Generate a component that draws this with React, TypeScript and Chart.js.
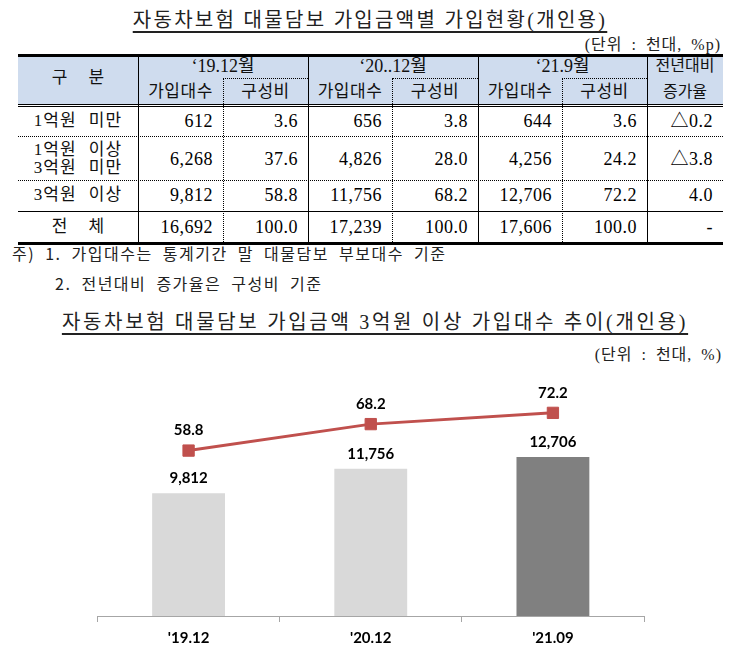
import React, { useEffect, useRef } from "react";
import { Chart, registerables } from "chart.js";

Chart.register(...registerables);

// ---------- chart data ----------
const categories = ["'19.12", "'20.12", "'21.09"];
const vehicleCounts = [9812, 11756, 12706];
const shareValues = [58.8, 68.2, 72.2];
const barColors = ["#d9d9d9", "#d9d9d9", "#808080"];

// ---------- table data ----------
const tableTitle = "자동차보험 대물담보 가입금액별 가입현황(개인용)";
const tableUnit = "(단위 : 천대, %p)";
const tablePeriods = ["\u201819.12월", "\u201820..12월", "\u201821.9월"];
const tableSubHeaders = ["가입대수", "구성비"];
const rowLabels = [["1억원 미만"], ["1억원 이상", "3억원 미만"], ["3억원 이상"], ["전 체"]];
const countRows = [
  [612, 656, 644],
  [6268, 4826, 4256],
  [9812, 11756, 12706],
  [16692, 17239, 17606],
];
const shareRows = [
  [3.6, 3.8, 3.6],
  [37.6, 28.0, 24.2],
  [58.8, 68.2, 72.2],
  [100.0, 100.0, 100.0],
];
const changeValues = ["\u25B30.2", "\u25B33.8", "4.0", "-"];
const notes = ["주) 1. 가입대수는 통계기간 말 대물담보 부보대수 기준", "2. 전년대비 증가율은 구성비 기준"];
const chartTitle = "자동차보험 대물담보 가입금액 3억원 이상 가입대수 추이(개인용)";
const chartUnit = "(단위 : 천대, %)";

// ---------- layout ----------
const SERIF = '"Liberation Serif", "Noto Sans CJK KR", serif';
const SANS = '"Noto Sans CJK KR", sans-serif';
const COLX = [18, 138, 223, 308, 392, 478, 562, 647, 723];
const ROW_CY = [121, 159, 195, 227];

function Txt(props: any) {
  const { left, width, cy, size = 17, lh = 22, align = "center", children, style } = props;
  return (
    <div
      style={{
        position: "absolute",
        left,
        width,
        top: cy - lh / 2,
        height: lh,
        lineHeight: lh + "px",
        fontSize: size,
        textAlign: align,
        whiteSpace: "nowrap",
        fontFamily: SERIF,
        color: "#111",
        ...style,
      }}
    >
      {children}
    </div>
  );
}

function HLine({ y, x1, x2, w = 1, kind = "solid" }: any) {
  return (
    <div
      style={{
        position: "absolute",
        left: x1,
        top: y,
        width: x2 - x1,
        height: 0,
        borderTop: `${w}px ${kind} #000`,
      }}
    />
  );
}

function VLine({ x, y1, y2, w = 1, kind = "solid" }: any) {
  return (
    <div
      style={{
        position: "absolute",
        left: x,
        top: y1,
        width: 0,
        height: y2 - y1,
        borderLeft: `${w}px ${kind} #000`,
      }}
    />
  );
}

const NUM_STYLE = { letterSpacing: 0.5, color: "#000" };

function Table() {
  const els: any[] = [];
  els.push(
    <div key="bg" style={{ position: "absolute", left: COLX[0], top: 56, width: COLX[8] - COLX[0], height: 48, background: "#cfdcee" }} />
  );
  els.push(<div key="top" style={{ position: "absolute", left: COLX[0], top: 54, width: COLX[8] - COLX[0], height: 3, background: "#000" }} />);
  els.push(<HLine key="d1" y={104} x1={COLX[0]} x2={COLX[8]} />);
  els.push(<HLine key="d2" y={106} x1={COLX[0]} x2={COLX[8]} />);
  els.push(<HLine key="r1" y={136} x1={COLX[0]} x2={COLX[8]} kind="dotted" />);
  els.push(<HLine key="r2" y={180} x1={COLX[0]} x2={COLX[8]} kind="dotted" />);
  els.push(<HLine key="r3" y={211} x1={COLX[0]} x2={COLX[8]} />);
  els.push(<div key="bot" style={{ position: "absolute", left: COLX[0], top: 242, width: COLX[8] - COLX[0], height: 2.5, background: "#000" }} />);
  for (let g = 0; g < 3; g++) {
    els.push(<HLine key={"hd" + g} y={78} x1={COLX[2 + 2 * g]} x2={COLX[3 + 2 * g]} kind="dotted" />);
    els.push(<VLine key={"vd" + g} x={COLX[2 + 2 * g]} y1={78} y2={242} kind="dotted" />);
  }
  [1, 3, 5, 7].forEach((i) => els.push(<VLine key={"vs" + i} x={COLX[i]} y1={57} y2={242} />));

  els.push(
    <Txt key="gubun" left={COLX[0]} width={COLX[1] - COLX[0]} cy={78} style={{ wordSpacing: 17 }}>
      구 분
    </Txt>
  );
  tablePeriods.forEach((p, g) => {
    els.push(
      <Txt key={"p" + g} left={COLX[1 + 2 * g]} width={COLX[3 + 2 * g] - COLX[1 + 2 * g]} cy={66} size={18}>
        {p}
      </Txt>
    );
    tableSubHeaders.forEach((s, k) => {
      els.push(
        <Txt key={"s" + g + k} left={COLX[1 + 2 * g + k]} width={COLX[2 + 2 * g + k] - COLX[1 + 2 * g + k]} cy={91.5} style={{ letterSpacing: 0.5 }}>
          {s}
        </Txt>
      );
    });
  });
  els.push(
    <Txt key="chg1" left={COLX[7]} width={COLX[8] - COLX[7]} cy={66} size={16}>
      전년대비
    </Txt>
  );
  els.push(
    <Txt key="chg2" left={COLX[7]} width={COLX[8] - COLX[7]} cy={92} size={16}>
      증가율
    </Txt>
  );

  rowLabels.forEach((lines, r) => {
    const isTotal = r === rowLabels.length - 1;
    lines.forEach((ln, li) => {
      const cy = lines.length === 1 ? ROW_CY[r] : ROW_CY[r] - 9 + li * 18;
      els.push(
        <Txt
          key={"rl" + r + li}
          left={COLX[0]}
          width={COLX[1] - COLX[0]}
          cy={cy}
          lh={18}
          style={isTotal ? { wordSpacing: 17 } : { letterSpacing: 1, wordSpacing: 7 }}
        >
          {ln}
        </Txt>
      );
    });
    for (let g = 0; g < 3; g++) {
      els.push(
        <Txt key={"c" + r + g} left={COLX[1 + 2 * g]} width={COLX[2 + 2 * g] - COLX[1 + 2 * g] - 10} cy={ROW_CY[r]} size={18} align="right" style={NUM_STYLE}>
          {countRows[r][g].toLocaleString("en-US")}
        </Txt>
      );
      els.push(
        <Txt key={"sh" + r + g} left={COLX[2 + 2 * g]} width={COLX[3 + 2 * g] - COLX[2 + 2 * g] - 10} cy={ROW_CY[r]} size={18} align="right" style={NUM_STYLE}>
          {shareRows[r][g].toFixed(1)}
        </Txt>
      );
    }
    els.push(
      <Txt key={"cv" + r} left={COLX[7]} width={COLX[8] - COLX[7] - 10} cy={ROW_CY[r]} size={18} align="right" style={NUM_STYLE}>
        {changeValues[r]}
      </Txt>
    );
  });
  return <>{els}</>;
}

const valueLabelPlugin = {
  id: "valueLabels",
  afterDatasetsDraw(chart: any) {
    const ctx = chart.ctx;
    ctx.save();
    ctx.font = 'bold 15px Lato, "Open Sans", sans-serif';
    ctx.fillStyle = "#000";
    ctx.textAlign = "center";
    ctx.textBaseline = "middle";
    chart.data.datasets.forEach((ds: any, i: number) => {
      const meta = chart.getDatasetMeta(i);
      meta.data.forEach((el: any, j: number) => {
        const v = ds.data[j];
        const isLine = ds.type === "line";
        const text = isLine ? v.toFixed(1) : v.toLocaleString("en-US");
        ctx.fillText(text, el.x, el.y - (isLine ? 20 : 14.5));
      });
    });
    ctx.restore();
  },
};

function TrendChart() {
  const ref = useRef<HTMLCanvasElement>(null);
  useEffect(() => {
    if (!ref.current) return;
    const chart = new Chart(ref.current, {
      type: "bar",
      data: {
        labels: categories,
        datasets: [
          {
            type: "line",
            data: shareValues,
            yAxisID: "y2",
            borderColor: "#c0504d",
            backgroundColor: "#c0504d",
            borderWidth: 3,
            pointStyle: "rect",
            pointRadius: 8,
            pointBorderWidth: 1,
            pointBackgroundColor: "#c0504d",
            pointBorderColor: "#c0504d",
            order: 0,
          } as any,
          {
            type: "bar",
            data: vehicleCounts,
            yAxisID: "y",
            backgroundColor: barColors,
            borderWidth: 0,
            barPercentage: 0.4,
            categoryPercentage: 1,
            order: 1,
          } as any,
        ],
      },
      options: {
        responsive: false,
        animation: false,
        layout: { padding: { left: 97.5, right: 106, top: 25.6, bottom: 0 } },
        plugins: { legend: { display: false }, tooltip: { enabled: false } },
        scales: {
          x: {
            offset: true,
            grid: { display: true, drawOnChartArea: false, drawTicks: true, tickLength: 6, color: "#a6a6a6", lineWidth: 1, offset: true },
            border: { display: true, color: "#a6a6a6", width: 1 },
            ticks: { color: "#000", padding: 7, font: { family: 'Lato, "Open Sans", sans-serif', size: 15, weight: "bold" } },
            afterFit: (scale: any) => {
              scale.height = 46;
            },
          },
          y: { display: false, min: 0, max: 20000 },
          y2: { display: false, min: 0, max: 89, position: "right" },
        },
      } as any,
      plugins: [valueLabelPlugin],
    });
    return () => chart.destroy();
  }, []);
  return <canvas ref={ref} width={750} height={322} style={{ position: "absolute", left: 0, top: 340, width: 750, height: 322 }} />;
}

export default function App() {
  return (
    <div style={{ position: "absolute", left: 0, top: 0, width: 750, height: 662, background: "#fff", overflow: "hidden" }}>
      <Txt left={0} width={740} cy={20} size={20} lh={26} style={{ letterSpacing: 2.3, color: "#222" }}>
        <span style={{ textDecoration: "underline", textUnderlineOffset: 4 }}>{tableTitle}</span>
      </Txt>
      <Txt left={0} width={721} cy={45} size={16} align="right" style={{ color: "#222", letterSpacing: 1, wordSpacing: 4 }}>
        {tableUnit}
      </Txt>
      <Table />
      <Txt left={12} width={720} cy={253} size={16} align="left" style={{ fontFamily: SANS, letterSpacing: 1.5, wordSpacing: 5, color: "#222" }}>
        {notes[0]}
      </Txt>
      <Txt left={55} width={600} cy={283} size={16} align="left" style={{ fontFamily: SANS, letterSpacing: 1.5, wordSpacing: 5, color: "#222" }}>
        {notes[1]}
      </Txt>
      <Txt left={0} width={750} cy={322} size={20} lh={26} style={{ letterSpacing: 2.7, color: "#222" }}>
        <span style={{ textDecoration: "underline", textUnderlineOffset: 4 }}>{chartTitle}</span>
      </Txt>
      <Txt left={0} width={722} cy={355} size={16} align="right" style={{ color: "#222", letterSpacing: 1, wordSpacing: 4 }}>
        {chartUnit}
      </Txt>
      <TrendChart />
    </div>
  );
}
